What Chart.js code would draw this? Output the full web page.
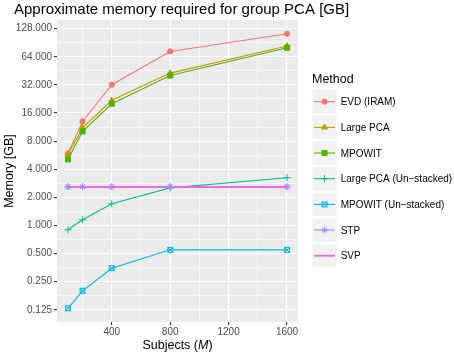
<!DOCTYPE html>
<html>
<head>
<meta charset="utf-8">
<script src="https://cdn.jsdelivr.net/npm/chart.js@4"></script>
<style>
  html, body { margin: 0; padding: 0; background: #fff; }
  canvas { display: block; }
</style>
</head>
<body>
<canvas id="chart" width="454" height="353"></canvas>
<script>
// data
const subjects = [100, 200, 400, 800, 1600];
const methods = ['EVD (IRAM)', 'Large PCA', 'MPOWIT', 'Large PCA (Un\u2212stacked)', 'MPOWIT (Un\u2212stacked)', 'STP', 'SVP'];
const evd = [5.9, 13.0, 32.2, 73, 113];
const largePCA = [5.8, 11.1, 21.9, 42.8, 83.5];
const mpowit = [5.1, 10.2, 20.1, 40.3, 80];
const largePCAUnstacked = [0.90, 1.15, 1.71, 2.53, 3.25];
const mpowitUnstacked = [0.130, 0.20, 0.349, 0.549, 0.549];
const stp = [2.6, 2.6, 2.6, 2.6, 2.6];
const svp = [2.57, 2.57, 2.57, 2.57, 2.57];
const yTicks = [0.125, 0.25, 0.5, 1, 2, 4, 8, 16, 32, 64, 128];
const xTicks = [400, 800, 1200, 1600];

const colors = ['#F8766D', '#C49A00', '#53B400', '#00C094', '#00B6EB', '#A58AFF', '#FB61D7'];

// boxed cross marker (pch 7)
function boxedCross(color) {
  const c = document.createElement('canvas');
  c.width = 8; c.height = 8;
  const g = c.getContext('2d');
  g.strokeStyle = color;
  g.lineWidth = 1;
  g.strokeRect(1.5, 1.5, 5, 5);
  g.beginPath();
  g.moveTo(1.5, 1.5); g.lineTo(6.5, 6.5);
  g.moveTo(6.5, 1.5); g.lineTo(1.5, 6.5);
  g.stroke();
  return c;
}

const markers = [
  {pointStyle: 'circle', radius: 2.6},
  {pointStyle: 'triangle', radius: 3.3},
  {pointStyle: 'rect', radius: 3.6},
  {pointStyle: 'cross', radius: 3.6},
  {pointStyle: boxedCross(colors[4]), radius: 4},
  {pointStyle: 'star', radius: 3.4},
  {pointStyle: false, radius: 0}
];

const series = [evd, largePCA, mpowit, largePCAUnstacked, mpowitUnstacked, stp, svp];

function pts(arr) {
  return arr.map((v, i) => ({x: subjects[i], y: Math.log2(v)}));
}

const datasets = series.map((arr, i) => ({
  label: methods[i],
  data: pts(arr),
  borderColor: colors[i],
  backgroundColor: colors[i],
  pointBackgroundColor: colors[i],
  pointBorderColor: colors[i],
  borderWidth: i === 6 ? 1.8 : 1.1,
  pointStyle: markers[i].pointStyle,
  pointRadius: markers[i].radius,
  pointBorderWidth: 1,
  pointHoverRadius: markers[i].radius,
  order: -i
}));
// STP points drawn above the SVP line, as ggplot does
datasets.push({
  label: 'stp-points',
  data: pts(stp),
  showLine: false,
  pointStyle: 'star',
  pointRadius: 3.4,
  pointBorderWidth: 1,
  pointBorderColor: colors[5],
  pointBackgroundColor: colors[5],
  order: -100
});

const allLog = series.flat().map(v => Math.log2(v));
const lo = Math.min(...allLog), hi = Math.max(...allLog);
const yMin = lo - (hi - lo) * 0.05, yMax = hi + (hi - lo) * 0.05;

const yMajor = yTicks.map(v => Math.log2(v));
const yAll = [];
yMajor.forEach((v, i) => {
  yAll.push(v);
  if (i < yMajor.length - 1) yAll.push(v + 0.5);
});
const xAll = [200, 400, 600, 800, 1000, 1200, 1400, 1600];

const panel = {
  id: 'panel',
  beforeDraw(chart) {
    const a = chart.chartArea, ctx = chart.ctx;
    ctx.save();
    ctx.fillStyle = '#EBEBEB';
    ctx.fillRect(a.left, a.top, a.right - a.left, a.bottom - a.top);
    ctx.restore();
  },
  afterDraw(chart) {
    const ctx = chart.ctx, a = chart.chartArea;
    ctx.save();
    // title
    ctx.fillStyle = '#000';
    ctx.font = '15px "Liberation Sans", Arial, sans-serif';
    ctx.textAlign = 'left';
    ctx.textBaseline = 'alphabetic';
    ctx.fillText('Approximate memory required for group PCA [GB]', 14, 14);

    // x title with italic M
    ctx.font = '12.5px "Liberation Sans", Arial, sans-serif';
    const p1 = 'Subjects (', p3 = ')';
    const w1 = ctx.measureText(p1).width, w3 = ctx.measureText(p3).width;
    ctx.font = 'italic 12.5px "Liberation Sans", Arial, sans-serif';
    const w2 = ctx.measureText('M').width;
    let x = (a.left + a.right) / 2 - (w1 + w2 + w3) / 2;
    ctx.font = '12.5px "Liberation Sans", Arial, sans-serif';
    ctx.fillText(p1, x, 348.5);
    ctx.font = 'italic 12.5px "Liberation Sans", Arial, sans-serif';
    ctx.fillText('M', x + w1, 348.5);
    ctx.font = '12.5px "Liberation Sans", Arial, sans-serif';
    ctx.fillText(p3, x + w1 + w2, 348.5);

    // y title
    ctx.save();
    ctx.translate(13, (a.top + a.bottom) / 2);
    ctx.rotate(-Math.PI / 2);
    ctx.textAlign = 'center';
    ctx.fillText('Memory [GB]', 0, 0);
    ctx.restore();

    // legend
    ctx.font = '12.5px "Liberation Sans", Arial, sans-serif';
    ctx.fillText('Method', 312, 82.5);
    ctx.font = '10px "Liberation Sans", Arial, sans-serif';
    methods.forEach((m, i) => {
      const top = 90 + i * 25.67;
      const cy = top + 11.7;
      ctx.fillStyle = '#F2F2F2';
      ctx.fillRect(312.5, top, 24, 23.3);
      ctx.strokeStyle = colors[i];
      ctx.lineWidth = i === 6 ? 1.8 : 1.1;
      ctx.beginPath();
      ctx.moveTo(314, cy);
      ctx.lineTo(335, cy);
      ctx.stroke();
      if (markers[i].pointStyle) {
        ctx.fillStyle = colors[i];
        ctx.strokeStyle = colors[i];
        ctx.lineWidth = 1;
        Chart.helpers.drawPoint(ctx, {pointStyle: markers[i].pointStyle, radius: markers[i].radius, borderWidth: 1, rotation: 0}, 324.5, cy);
      }
      ctx.fillStyle = '#000';
      ctx.fillText(m, 340.7, cy + 3.6);
    });
    ctx.restore();
  }
};

new Chart(document.getElementById('chart'), {
  type: 'line',
  data: {datasets: datasets},
  plugins: [panel],
  options: {
    responsive: false,
    animation: false,
    events: [],
    layout: {padding: {top: 20, right: 156, bottom: 0, left: 0}},
    plugins: {legend: {display: false}, tooltip: {enabled: false}, title: {display: false}},
    scales: {
      x: {
        type: 'linear',
        min: 25,
        max: 1675,
        afterBuildTicks: s => { s.ticks = xAll.map(v => ({value: v})); },
        afterFit: s => { s.height = 31; },
        border: {display: false},
        grid: {
          color: '#FFFFFF',
          lineWidth: c => xTicks.includes(c.tick.value) ? 1.1 : 0.55,
          tickColor: c => xTicks.includes(c.tick.value) ? '#333333' : 'rgba(0,0,0,0)',
          tickLength: 3
        },
        ticks: {
          color: '#4D4D4D',
          font: {family: '"Liberation Sans", Arial, sans-serif', size: 10},
          padding: 1,
          maxRotation: 0,
          autoSkip: false,
          callback: v => xTicks.includes(v) ? String(v) : ''
        }
      },
      y: {
        type: 'linear',
        min: yMin,
        max: yMax,
        afterBuildTicks: s => { s.ticks = yAll.map(v => ({value: v})); },
        afterFit: s => { s.width = 57; },
        border: {display: false},
        grid: {
          color: '#FFFFFF',
          lineWidth: c => Number.isInteger(c.tick.value) ? 1.1 : 0.55,
          tickColor: c => Number.isInteger(c.tick.value) ? '#333333' : 'rgba(0,0,0,0)',
          tickLength: 3
        },
        ticks: {
          color: '#4D4D4D',
          font: {family: '"Liberation Sans", Arial, sans-serif', size: 10},
          padding: 2,
          autoSkip: false,
          callback: v => Number.isInteger(v) ? Math.pow(2, v).toFixed(3) : ''
        }
      }
    }
  }
});
</script>
</body>
</html>
